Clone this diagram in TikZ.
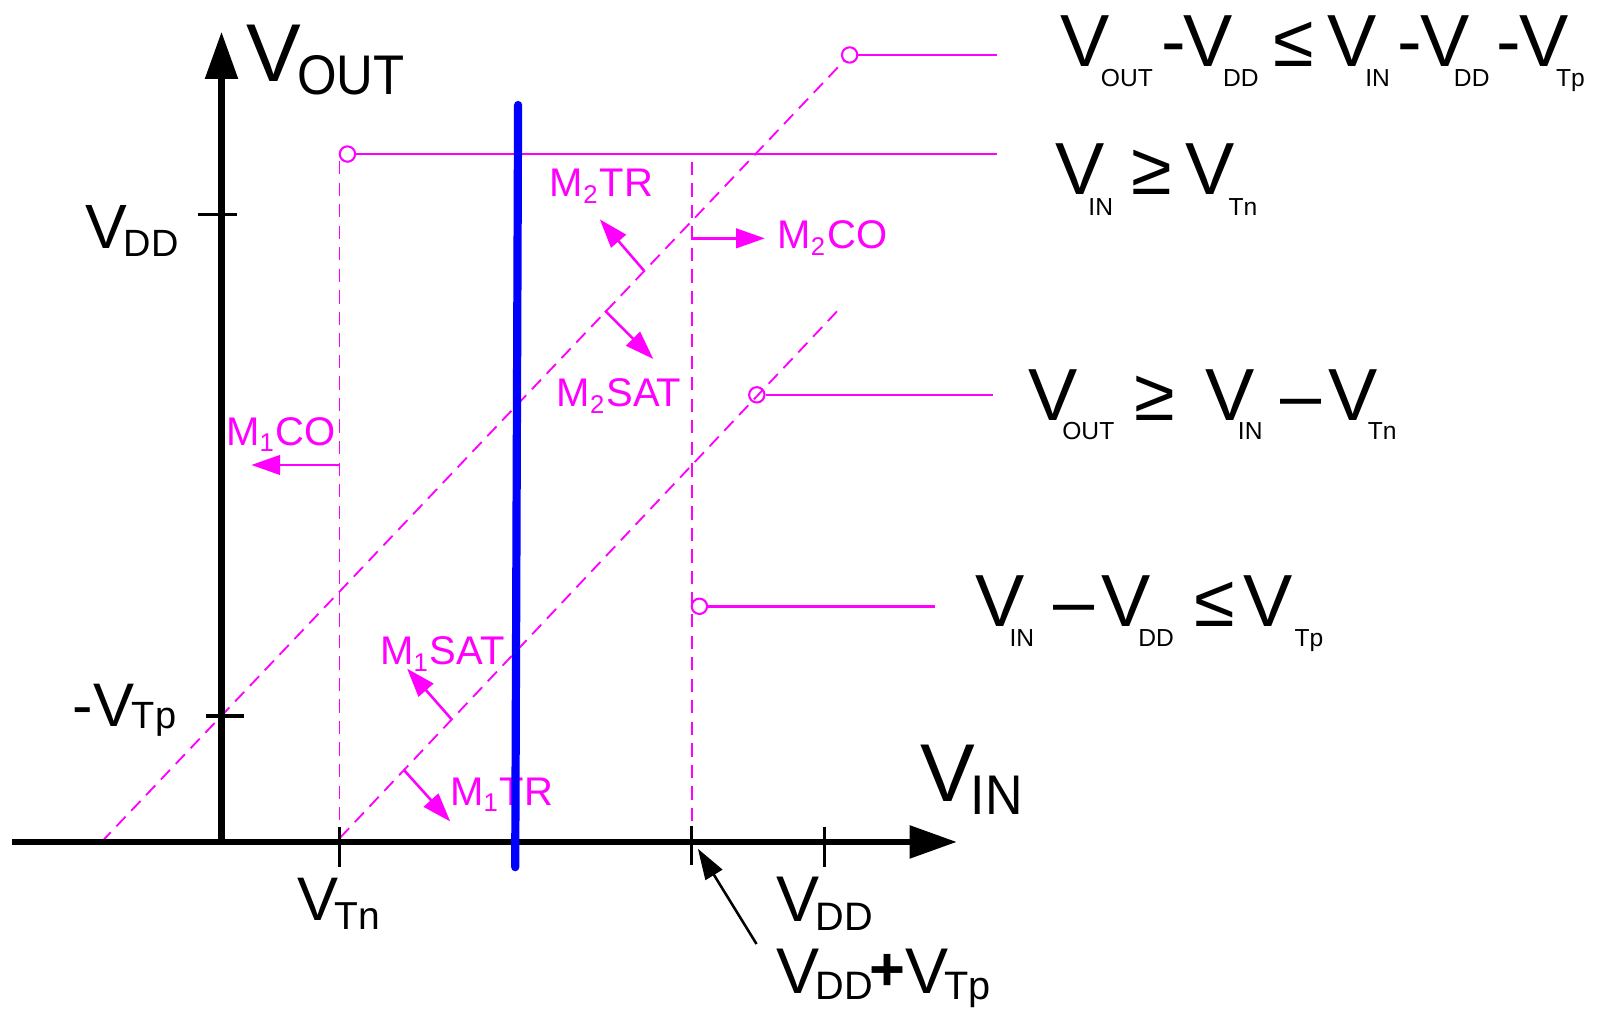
\documentclass[tikz,border=0pt]{standalone}
\usepackage{graphicx}
\usepackage{fontspec}
\setmainfont{Liberation Sans}
\usetikzlibrary{arrows.meta}
\definecolor{mag}{RGB}{255,0,255}
\definecolor{blu}{RGB}{0,0,255}
\newcommand\fs[1]{\fontsize{#1}{#1}\selectfont}
\newcommand\pc[3]{\rlap{\kern#1pt\raisebox{#2pt}{#3}}}
\newcommand\sbf{\fs{24}}
\newcommand\msub[1]{\raisebox{-6.5pt}{\fs{25}#1}}
\tikzset{
  axisln/.style={line width=6pt,-{Triangle[length=46pt,width=31pt]}},
  tickln/.style={line width=3pt},
  mdash/.style={mag,line width=1.8pt,dash pattern=on 13pt off 8pt},
  mline/.style={mag,line width=2.5pt},
  marr/.style={mag,line width=2.5pt,-{Triangle[length=28pt,width=19pt]}},
  barr/.style={black,line width=2.5pt,-{Triangle[length=30pt,width=19pt]}},
  mtxt/.style={mag,anchor=base west,inner sep=0pt,font=\fs{39}},
  btxt/.style={black,anchor=base west,inner sep=0pt},
  ring/.style={circle,draw=mag,line width=2pt,minimum size=15pt,inner sep=0pt},
}
\begin{document}
\begin{tikzpicture}[x=1pt,y=-1pt]
\useasboundingbox (0,0) rectangle (1568,983);
% key coordinates
\coordinate (O) at (216,821);
\coordinate (xl) at (12,821);
\coordinate (xr) at (933,821);
\coordinate (yt) at (216,31);
\coordinate (vtn) at (331,821);
\coordinate (vddtp) at (674.8,821);
\coordinate (l1a) at (99,821);
\coordinate (l2a) at (331.5,817);
\coordinate (l2b) at (818.9,300.7);
\coordinate (v1top) at (331,157);
\coordinate (v2top) at (674.8,157.7);
% circles
\node[ring] (c1) at (828.5,53.6) {};
\node[ring] (c2) at (338.8,150.2) {};
\node[ring] (c3) at (738,385) {};
\node[ring] (c4) at (682,591.2) {};
\coordinate (e1) at (972.6,53.6);
\coordinate (e2) at (972.6,150.2);
\coordinate (e3) at (968.6,385);
\coordinate (e4) at (911.8,591.2);
% dashed lines
\draw[mdash] (l1a) -- (c1);
\draw[mdash] (l2a) -- (l2b);
\draw[mdash] (v1top) -- (vtn);
\draw[mdash] (v2top) -- (vddtp);
% solid lines
\draw[mline] (c1.east) -- (e1);
\draw[mline] (c2.east) -- (e2);
\draw[mline] (c3.east) -- (e3);
\draw[mline] (c4.east) -- (e4);
% region arrows
\coordinate (a1) at (331,453.4); \coordinate (a1t) at (245.1,453.4);
\coordinate (a2) at (674.8,232.4); \coordinate (a2t) at (745.8,232.4);
\coordinate (a3) at (628,264); \coordinate (a3t) at (585,214);
\coordinate (a4) at (590,303); \coordinate (a4t) at (637,350);
\coordinate (a5) at (440,701); \coordinate (a5t) at (397,652);
\coordinate (a6) at (394,751); \coordinate (a6t) at (439,801);
\draw[marr] (a1) -- (a1t);
\draw[marr] (a2) -- (a2t);
\draw[marr] (a3) -- (a3t);
\draw[marr] (a4) -- (a4t);
\draw[marr] (a5) -- (a5t);
\draw[marr] (a6) -- (a6t);
% magenta labels
\node[mtxt] (m2tr) at (536.1,191.8) {M\msub{2}\kern2pt TR};
\node[mtxt] (m2co) at (758.1,242.2) {M\msub{2}\kern2pt CO};
\node[mtxt] (m2sat) at (542.7,396.6) {M\msub{2}\kern2pt SAT};
\node[mtxt] (m1co) at (220.5,434) {M\msub{1}\kern2pt CO};
\node[mtxt] (m1sat) at (370.6,648) {M\msub{1}\kern2pt SAT};
\node[mtxt] (m1tr) at (438.8,785) {M\msub{1}\kern2pt TR};
% axes
\draw[axisln] (xl) -- (xr);
\draw[axisln] (O) -- (yt);
\draw[tickln] (331.2,806) -- (331.2,845);
\draw[tickln] (674.5,805) -- (674.5,843);
\draw[tickln] (803.9,806) -- (803.9,845);
\draw[line width=3.5pt] (193,209) -- (230.8,209);
\draw[line width=3.5pt] (200.4,697.9) -- (237.7,697.9);
% axis labels
\node[btxt] (vout) at (240,79.6) {\fs{80}V\kern-3.9pt\raisebox{-13pt}{\fs{54.5}\scalebox{0.91}[1]{OUT}}};
\node[btxt] (vin) at (897.1,781.7) {\fs{80}V\kern-3.9pt\raisebox{-13pt}{\fs{54.5}\scalebox{0.93}[1]{IN}}};
\node[btxt] (vddl) at (83,242) {\fs{61}V\kern-3.2pt\raisebox{-8.4pt}{\fs{37}DD}};
\node[btxt] (vtpl) at (70.3,708) {\fs{60}-\kern0.7pt V\kern-2.5pt\raisebox{-2pt}{\fs{37}Tp}};
\node[btxt] (vtnl) at (290,898) {\fs{60}V\kern-4pt\raisebox{-8pt}{\fs{38}Tn}};
\node[btxt] (vddb) at (757.4,898.7) {\fs{63}V\kern-4.4pt\raisebox{-8.2pt}{\fs{38.7}DD}};
\node[btxt] (vddtpl) at (757.4,968.6) {\fs{63}V\kern-4.4pt\raisebox{-6.4pt}{\fs{38.7}DD}\kern-3.3pt\raisebox{3pt}{\fs{60}\bfseries +}V\kern-3.9pt\raisebox{-6.4pt}{\fs{38.7}Tp}};
\coordinate (pa) at (737.7,920.5);
\coordinate (pt) at (680.5,827.6);
\draw[barr] (pa) -- (pt);
% right condition labels
\node[btxt] (r1) at (1033.6,65) {\fs{72}\pc{0}{0}{V}\pc{39.7}{-19.5}{\sbf OUT}\pc{98.4}{0}{-}\pc{119.9}{0}{V}\pc{158.9}{-19.5}{\sbf DD}\pc{208.4}{0}{≤}\pc{261.1}{0}{V}\pc{297.6}{-19.5}{\sbf IN}\pc{329.4}{0}{-}\pc{351.1}{0}{V}\pc{384}{-19.5}{\sbf DD}\pc{425.4}{0}{-}\pc{448.1}{0}{V}\pc{483.5}{-19.5}{\sbf Tp}\kern513pt};
\node[btxt] (r2) at (1028.7,190) {\fs{72}\pc{0}{0}{V}\pc{32.5}{-19.7}{\sbf IN}\pc{74.3}{0}{≥}\pc{126.8}{0}{V}\pc{169.2}{-19.7}{\sbf Tn}\kern193pt};
\node[btxt] (r3) at (1002.8,409.6) {\fs{72}\pc{0}{0}{V}\pc{32.9}{-19.4}{\sbf OUT}\pc{103.7}{0}{≥}\pc{172.2}{0}{V}\pc{204.1}{-19.4}{\sbf IN}\pc{245.4}{0}{–}\pc{292.5}{0}{V}\pc{330.9}{-19.4}{\sbf Tn}\kern358pt};
\node[btxt] (r4) at (950.7,611) {\fs{72}\pc{0}{0}{V}\pc{33.5}{-19.6}{\sbf IN}\pc{76.4}{0}{–}\pc{123.6}{0}{V}\pc{159.1}{-19.6}{\sbf DD}\pc{214.3}{0}{≤}\pc{261.7}{0}{V}\pc{311.5}{-19.6}{\sbf Tp}\kern335pt};
% blue line
\coordinate (bt) at (505.2,102.4);
\coordinate (bb) at (502.4,845.6);
\draw[blu,line width=8pt,line cap=round] (bt) -- (bb);
\end{tikzpicture}
\end{document}
